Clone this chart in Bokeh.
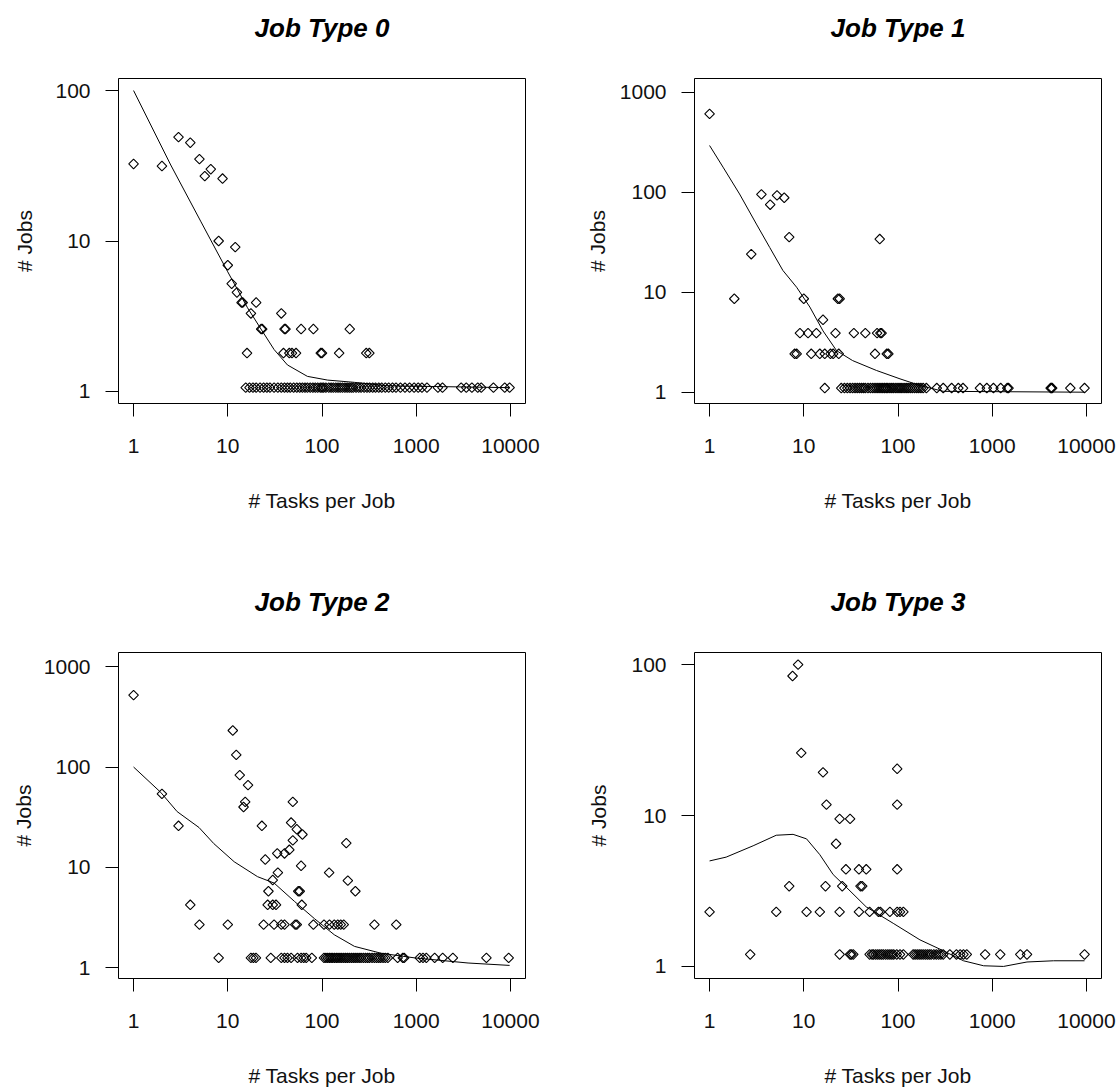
import math
from bokeh.plotting import figure
from bokeh.layouts import column, row
from bokeh.models import FixedTicker, NumeralTickFormatter, Range1d, Title
from bokeh.embed import file_html
from bokeh.resources import INLINE

FONT = "Liberation Sans"

titles = ["Job Type 0", "Job Type 1", "Job Type 2", "Job Type 3"]
x_ticks = [1, 10, 100, 1000, 10000]

# ---- Job Type 0 ----
t0_x = [1, 2, 3, 4, 5, 5.7, 6.6, 8.8, 8, 12, 10, 11, 12.5, 14, 14.4, 20, 17.6,
        22.6, 23.2, 16, 37, 40, 41, 60, 81, 197, 39, 45, 48, 53, 97, 100, 152, 295, 318]
t0_y = [32.5, 31.5, 49, 45, 35, 27, 30, 26, 10, 9.1, 6.9, 5.2, 4.55, 3.9, 3.9, 3.9, 3.3,
        2.6, 2.6, 1.8, 3.3, 2.6, 2.6, 2.6, 2.6, 2.6, 1.8, 1.8, 1.8, 1.8, 1.8, 1.8, 1.8, 1.8, 1.8]
t0_low_x = [15.5, 17, 18.5, 20, 22, 24, 26, 28, 31, 34, 37, 40, 43, 46, 50, 54, 58, 62, 66,
            70, 75, 80, 85, 90, 96, 100, 104, 110, 118, 125, 132, 140, 148, 156, 165, 175,
            185, 195, 205, 215, 230, 245, 260, 280, 300, 320, 345, 370, 400, 430, 470, 510,
            560, 610, 680, 760, 850, 950, 1050, 1150, 1300, 1700, 1900, 3000, 3400, 3900,
            4500, 4900, 6600, 8700, 9800]
t0_low_y = 1.06
t0_fit_x = [1, 2.48, 5.2, 9.9, 16.2, 22.5, 31, 43, 70, 115, 220, 500, 9800]
t0_fit_y = [100, 32, 13.4, 6.3, 3.6, 2.6, 1.9, 1.5, 1.26, 1.19, 1.15, 1.09, 1.06]

# ---- Job Type 1 ----
t1_x = [1, 1.83, 2.77, 3.55, 4.4, 5.2, 6.2, 7, 64, 10, 23, 24, 16,
        9.1, 11.1, 13.6, 21.7, 34, 45, 60, 65, 67,
        8, 8.4, 12, 14.8, 16.7, 19.2, 20.5, 23.5, 57, 76, 79]
t1_y = [607, 8.6, 24, 95, 75, 93, 88, 35.5, 34, 8.6, 8.6, 8.6, 5.3,
        3.9, 3.9, 3.9, 3.9, 3.9, 3.9, 3.9, 3.9, 3.9,
        2.42, 2.42, 2.42, 2.42, 2.42, 2.42, 2.42, 2.42, 2.42, 2.42, 2.42]
t1_low_x = [16.7, 25, 27, 29, 31, 33, 35, 37, 39, 41, 43, 45, 48, 51, 54, 57, 60, 63, 66,
            69, 72, 75, 78, 82, 86, 90, 95, 100, 105, 110, 116, 122, 128, 135, 142, 150,
            158, 166, 175, 185, 200, 258, 302, 371, 437, 490, 741, 876, 1030, 1230, 1445,
            1490, 4170, 4250, 4330, 6750, 9550]
t1_low_y = 1.1
t1_fit_x = [1, 1.39, 2.08, 3.14, 4.35, 6.0, 8.4, 11.6, 16, 22.3, 33, 59, 105, 170, 302, 9550]
t1_fit_y = [293, 178, 96, 48, 28, 16.5, 11.2, 7.1, 4.1, 2.6, 2.07, 1.65, 1.36, 1.17, 1.02, 1.0]

# ---- Job Type 2 ----
t2_x = [1, 2, 3, 4, 5, 10, 11.3, 12.3, 13.4, 16.4, 15.3, 14.7,
        23, 25, 33.5, 40, 45, 49, 49, 47, 54, 62, 60,
        34, 30, 27, 56, 58, 61, 26.5, 30, 32.5, 181, 119, 188, 226,
        24, 31, 37, 40, 52, 54, 81, 105, 120, 135, 147, 158, 170, 360, 614]
t2_y = [520, 54, 26, 4.25, 2.7, 2.7, 231, 132, 83, 66, 45, 40,
        26, 12, 13.8, 13.8, 15, 18.6, 45, 28, 24, 21.3, 10.4,
        8.9, 7.5, 5.8, 5.8, 5.8, 4.25, 4.25, 4.25, 4.25, 17.5, 8.9, 7.4, 5.8,
        2.7, 2.7, 2.7, 2.7, 2.7, 2.7, 2.7, 2.7, 2.7, 2.7, 2.7, 2.7, 2.7, 2.7, 2.7]
t2_low_x = [8, 17.6, 18.7, 19.9, 28.6, 37, 40, 43, 47, 55, 60, 64, 68, 78, 105, 110, 115,
            120, 125, 130, 136, 142, 148, 155, 162, 170, 178, 186, 195, 205, 215, 225,
            236, 248, 260, 275, 290, 305, 320, 340, 360, 380, 400, 420, 445, 470, 500,
            635, 720, 745, 1090, 1180, 1280, 1570, 1910, 2450, 5560, 9580]
t2_low_y = 1.26
t2_fit_x = [1, 1.94, 2.9, 4.95, 7.1, 11.7, 20.7, 31, 51, 83, 135, 221, 425, 960, 3550, 9800]
t2_fit_y = [100, 56, 36, 25, 17.3, 11.4, 8.1, 7.0, 4.6, 3.1, 2.14, 1.64, 1.4, 1.26, 1.12, 1.06]

# ---- Job Type 3 ----
t3_x = [1, 5.1, 7, 7.6, 8.7, 9.4, 10.7, 14.8, 16, 17.4, 17, 22, 24, 31, 24, 25.6,
        28, 38.5, 46, 40, 41.7, 38.5, 50, 62, 65, 82, 98, 105, 114, 98, 98, 98]
t3_y = [2.3, 2.3, 3.4, 84, 100, 26, 2.3, 2.3, 19.3, 11.8, 3.4, 6.5, 9.5, 9.5, 2.3, 3.4,
        4.4, 4.4, 4.4, 3.4, 3.4, 2.3, 2.3, 2.3, 2.3, 2.3, 2.3, 2.3, 2.3, 20.4, 11.8, 4.4]
t3_low_x = [2.7, 24, 31, 32, 33.5, 50, 53, 55, 58, 61, 64, 67, 70, 74, 78, 82, 86, 90, 97,
            105, 114, 145, 152, 160, 168, 176, 185, 195, 205, 215, 225, 240, 255, 270,
            285, 302, 355, 417, 457, 495, 537, 841, 1217, 1986, 2340, 9550]
t3_low_y = 1.2
t3_fit_x = [1, 1.5, 2.9, 5.1, 7.7, 10.7, 14.8, 20.5, 28.5, 46, 89, 171, 303, 495, 810, 1320, 2340, 4480, 9550]
t3_fit_y = [5.0, 5.3, 6.3, 7.4, 7.5, 7.0, 5.5, 4.06, 3.33, 2.48, 1.93, 1.5, 1.27, 1.09, 1.01, 1.0, 1.07, 1.09, 1.09]


def panel(title, px, py, lx, ly, fx, fy, ylog, yticks, w, h, bl, br, bt, bb, ystand):
    p = figure(width=w, height=h, x_axis_type="log", y_axis_type="log",
               x_range=Range1d(10 ** -0.16, 10 ** 4.16),
               y_range=Range1d(10 ** ylog[0], 10 ** ylog[1]),
               output_backend="svg", toolbar_location=None, title=None,
               min_border_left=bl, min_border_right=br,
               min_border_top=bt, min_border_bottom=bb,
               background_fill_color="white", border_fill_color="white")
    # spacer between the title and the frame (closest to the frame)
    p.add_layout(Title(text=" ", text_font_size="8px", standoff=23), "above")
    p.add_layout(Title(text=title, text_font=FONT, text_font_size="26px",
                       text_font_style="bold italic", align="center",
                       text_color="black", standoff=4), "above")
    p.grid.visible = False
    p.outline_line_color = "black"
    p.outline_line_width = 1
    p.outline_line_alpha = 1

    p.xaxis.ticker = FixedTicker(ticks=x_ticks)
    p.yaxis.ticker = FixedTicker(ticks=yticks)
    for ax in (p.xaxis[0], p.yaxis[0]):
        ax.formatter = NumeralTickFormatter(format="0")
        ax.axis_line_color = None
        ax.major_tick_in = 0
        ax.major_tick_out = 13
        ax.minor_tick_in = 0
        ax.minor_tick_out = 0
        ax.major_tick_line_color = "black"
        ax.major_label_text_font = FONT
        ax.major_label_text_font_size = "21px"
        ax.major_label_text_color = "#111111"
        ax.axis_label_text_font = FONT
        ax.axis_label_text_font_size = "21px"
        ax.axis_label_text_font_style = "normal"
        ax.axis_label_text_color = "#111111"
    p.xaxis.axis_label = "# Tasks per Job"
    p.yaxis.axis_label = "# Jobs"
    p.xaxis.major_label_standoff = 22
    p.xaxis.axis_label_standoff = 33
    p.yaxis.major_label_standoff = 15
    p.yaxis.axis_label_standoff = ystand

    p.line(fx, fy, line_color="black", line_width=1)
    p.scatter(px, py, marker="square", size=6.8, angle=math.pi / 4,
              fill_color=None, line_color="black", line_width=1.1)
    p.scatter(lx, [ly] * len(lx), marker="square", size=6.8, angle=math.pi / 4,
              fill_color=None, line_color="black", line_width=1.1)
    return p


H1 = 560
H2 = 1089 - H1
W = 559

p0 = panel(titles[0], t0_x, t0_y, t0_low_x, t0_low_y, t0_fit_x, t0_fit_y,
           (-0.08, 2.08), [1, 10, 100], W, H1, 118, 34, 78, H1 - 403, 16)
p1 = panel(titles[1], t1_x, t1_y, t1_low_x, t1_low_y, t1_fit_x, t1_fit_y,
           (-0.113, 3.137), [1, 10, 100, 1000], 1118 - W, H1, 135, 17, 78, H1 - 403, 8)
p2 = panel(titles[2], t2_x, t2_y, t2_low_x, t2_low_y, t2_fit_x, t2_fit_y,
           (-0.105, 3.14), [1, 10, 100, 1000], W, H2, 118, 34, 652 - H1, 1089 - 978, 6)
p3 = panel(titles[3], t3_x, t3_y, t3_low_x, t3_low_y, t3_fit_x, t3_fit_y,
           (-0.08, 2.08), [1, 10, 100], 1118 - W, H2, 135, 17, 652 - H1, 1089 - 978, 18)

layout = column(row(p0, p1), row(p2, p3))
open("out.html", "w").write(file_html(layout, INLINE))
